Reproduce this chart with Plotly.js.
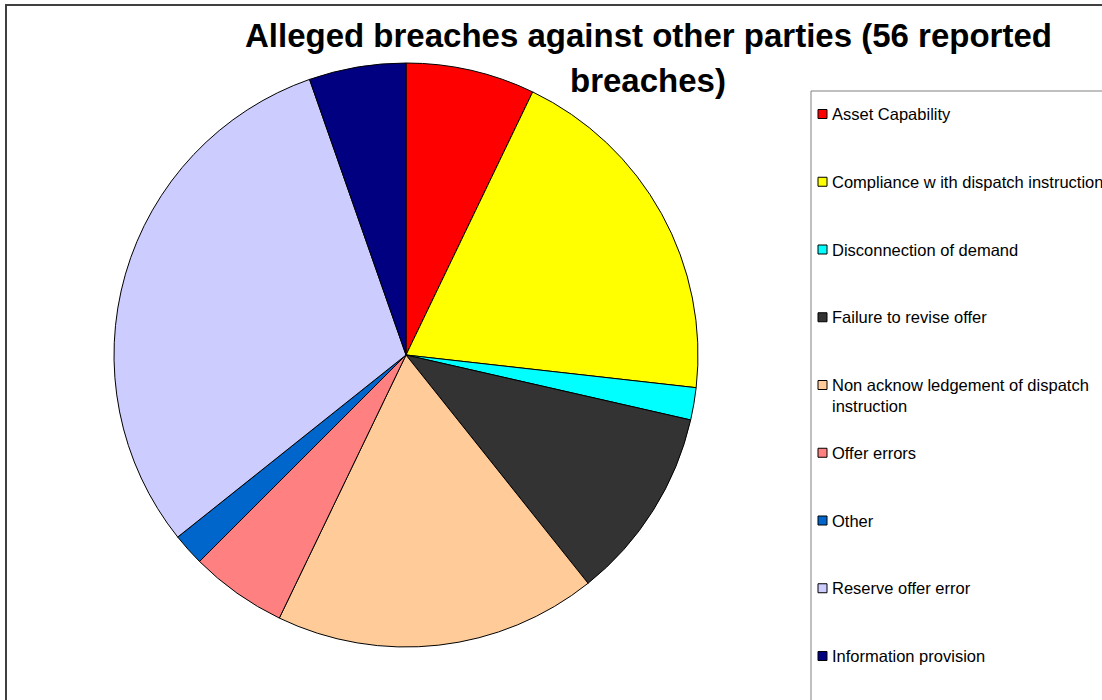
<!DOCTYPE html>
<html>
<head>
<meta charset="utf-8">
<script src="https://cdn.plot.ly/plotly-3.0.1.min.js"></script>
<style>html,body{margin:0;padding:0;background:#fff;}#chart{width:1102px;height:700px;}</style>
</head>
<body>
<div id="chart"></div>
<script>
var categories = [
  "Asset Capability",
  "Compliance w ith dispatch instruction",
  "Disconnection of demand",
  "Failure to revise offer",
  "Non acknow ledgement of dispatch<br>instruction",
  "Offer errors",
  "Other",
  "Reserve offer error",
  "Information provision"
];
var breaches = [4, 11, 1, 6, 10, 3, 1, 17, 3];
var colors = ["#FF0000", "#FFFF00", "#00FFFF", "#333333", "#FFCC99", "#FF8080", "#0066CC", "#CCCCFF", "#000080"];
var titleLines = ["Alleged breaches against other parties (56 reported", "breaches)"];

var W = 1102, H = 700;
function px(x){ return x / W; }
function py(y){ return 1 - y / H; }

var trace = {
  type: "pie",
  labels: categories.map(function(c){ return c.replace("<br>", " "); }),
  values: breaches,
  sort: false,
  direction: "clockwise",
  rotation: 0,
  textinfo: "none",
  hoverinfo: "label+value+percent",
  marker: { colors: colors, line: { color: "#000000", width: 1 } },
  domain: { x: [px(406 - 292), px(406 + 292)], y: [py(647), py(63)] },
  showlegend: false
};

var shapes = [
  { type: "rect", xref: "paper", yref: "paper", x0: px(6), x1: px(1110), y0: py(710), y1: py(5),
    line: { color: "#404040", width: 2 }, fillcolor: "rgba(0,0,0,0)" },
  { type: "rect", xref: "paper", yref: "paper", x0: px(811), x1: px(1110), y0: py(710), y1: py(91),
    line: { color: "#808080", width: 1 }, fillcolor: "rgba(0,0,0,0)" }
];
var annotations = [];
var titleFont = { family: "Liberation Sans, Arial, sans-serif", size: 33, color: "#000000" };
titleLines.forEach(function(t, i){
  annotations.push({ xref: "paper", yref: "paper", x: px(648), y: py(36 + i * 45),
    xanchor: "center", yanchor: "middle", showarrow: false,
    text: "<b>" + t + "</b>", font: titleFont });
});
categories.forEach(function(c, i){
  var yc = 114 + i * 67.75;
  shapes.push({ type: "rect", xref: "paper", yref: "paper",
    x0: px(818), x1: px(827), y0: py(yc + 4.5), y1: py(yc - 4.5),
    fillcolor: colors[i], line: { color: "#000000", width: 1 } });
  var twoLine = c.indexOf("<br>") >= 0;
  annotations.push({ xref: "paper", yref: "paper", x: px(830), y: twoLine ? py(yc - 11) : py(yc),
    xanchor: "left", yanchor: twoLine ? "top" : "middle", align: "left", showarrow: false,
    text: c, font: { family: "Liberation Sans, Arial, sans-serif", size: 16.5, color: "#000000" } });
});

var layout = {
  width: W, height: H,
  margin: { l: 0, r: 0, t: 0, b: 0 },
  paper_bgcolor: "#FFFFFF",
  shapes: shapes,
  annotations: annotations
};

Plotly.newPlot("chart", [trace], layout, { displayModeBar: false, staticPlot: true });
</script>
</body>
</html>
